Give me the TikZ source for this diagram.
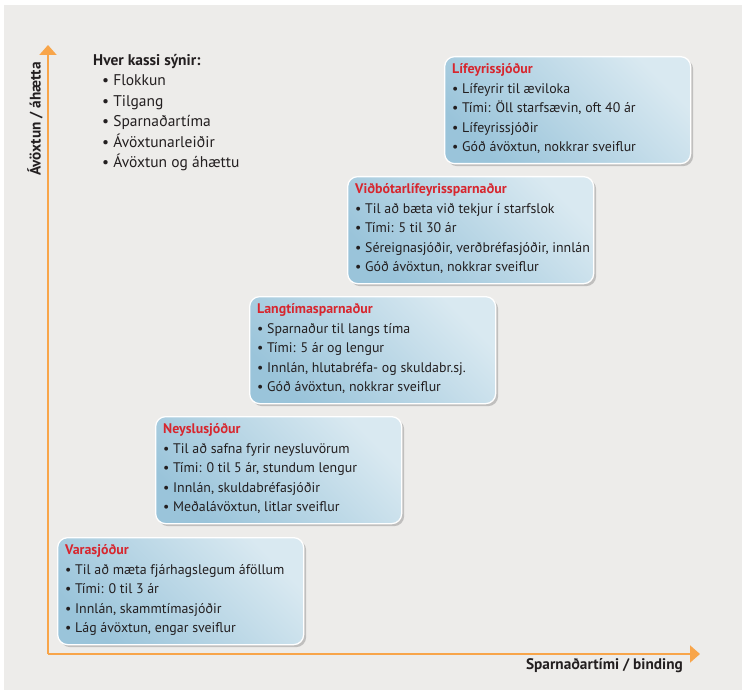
\documentclass[tikz,border=0pt]{standalone}
\usepackage{fontspec}
\setmainfont{PT Sans}
\usetikzlibrary{arrows.meta,shadows,positioning}
\definecolor{bggray}{HTML}{EDECEA}
\definecolor{axisorange}{HTML}{F8A54A}
\definecolor{boxdark}{HTML}{9AC4DA}
\definecolor{boxmid}{HTML}{A9CDE0}
\definecolor{boxlight}{HTML}{D9E9F1}
\definecolor{titlered}{HTML}{D7262E}
\definecolor{textdark}{HTML}{231F20}
\tikzset{
  fundbox/.style={rounded corners=10pt, draw=white, line width=1.3pt,
    top color=boxlight, middle color=boxmid, bottom color=boxdark, shading angle=-45,
    drop shadow={shadow xshift=2.5pt, shadow yshift=-2.5pt, opacity=0.28, fill=black!70},
    minimum width=246pt, minimum height=107pt, anchor=north west, inner sep=0pt},
  fundtext/.style={anchor=north west, inner sep=0pt, align=left, text=textdark,
    font=\fontsize{13.9}{19.5}\selectfont},
  legendtext/.style={anchor=north west, inner sep=0pt, align=left, text=textdark,
    font=\fontsize{15.5}{20.5}\selectfont},
  axislabel/.style={inner sep=0pt, text=textdark, font=\fontsize{15.3}{17}\selectfont\bfseries},
  axisline/.style={draw=axisorange, line width=2pt, -{Triangle[length=10pt,width=17pt]}}
}
\newcommand{\ftitle}[1]{{\bfseries\color{titlered}#1}}
\begin{document}
\begin{tikzpicture}[x=1pt,y=-1pt]
\useasboundingbox (0,0) rectangle (742,690);
\fill[bggray] (4,5) rectangle (742,690);

% axes
\coordinate (origin) at (48,654);
\coordinate (ytip) at (48,45);
\coordinate (xtip) at (700,654);
\draw[axisline] (origin) -- (ytip);
\draw[axisline] (origin) -- (xtip);

\node[axislabel, rotate=90] (ylab) at (35,119) {Ávöxtun / áhætta};
\node[axislabel, anchor=east] (xlab) at (683,666) {Sparnaðartími / binding};

% legend
\node[legendtext] (legend) at (93,54) {{\bfseries Hver kassi sýnir:}\\
\hspace*{9pt}• Flokkun\\
\hspace*{9pt}• Tilgang\\
\hspace*{9pt}• Sparnaðartíma\\
\hspace*{9pt}• Ávöxtunarleiðir\\
\hspace*{9pt}• Ávöxtun og áhættu};

% boxes
\node[fundbox] (b5) at (57,537) {};
\node[fundbox] (b4) at (155,416) {};
\node[fundbox] (b3) at (249,296) {};
\node[fundbox] (b2) at (347,176) {};
\node[fundbox] (b1) at (444,56) {};

\node[fundtext] (t1) at ([xshift=8pt,yshift=-7.5pt]b1.north west) {\ftitle{Lífeyrissjóður}\\
• Lífeyrir til æviloka\\
• Tími: Öll starfsævin, oft 40 ár\\
• Lífeyrissjóðir\\
• Góð ávöxtun, nokkrar sveiflur};

\node[fundtext] (t2) at ([xshift=8pt,yshift=-7.5pt]b2.north west) {\ftitle{Viðbótarlífeyrissparnaður}\\
• Til að bæta við tekjur í starfslok\\
• Tími: 5 til 30 ár\\
• Séreignasjóðir, verðbréfasjóðir, innlán\\
• Góð ávöxtun, nokkrar sveiflur};

\node[fundtext] (t3) at ([xshift=8pt,yshift=-7.5pt]b3.north west) {\ftitle{Langtímasparnaður}\\
• Sparnaður til langs tíma\\
• Tími: 5 ár og lengur\\
• Innlán, hlutabréfa- og skuldabr.sj.\\
• Góð ávöxtun, nokkrar sveiflur};

\node[fundtext] (t4) at ([xshift=8pt,yshift=-7.5pt]b4.north west) {\ftitle{Neyslusjóður}\\
• Til að safna fyrir neysluvörum\\
• Tími: 0 til 5 ár, stundum lengur\\
• Innlán, skuldabréfasjóðir\\
• Meðalávöxtun, litlar sveiflur};

\node[fundtext] (t5) at ([xshift=8pt,yshift=-7.5pt]b5.north west) {\ftitle{Varasjóður}\\
• Til að mæta fjárhagslegum áföllum\\
• Tími: 0 til 3 ár\\
• Innlán, skammtímasjóðir\\
• Lág ávöxtun, engar sveiflur};
\end{tikzpicture}
\end{document}
